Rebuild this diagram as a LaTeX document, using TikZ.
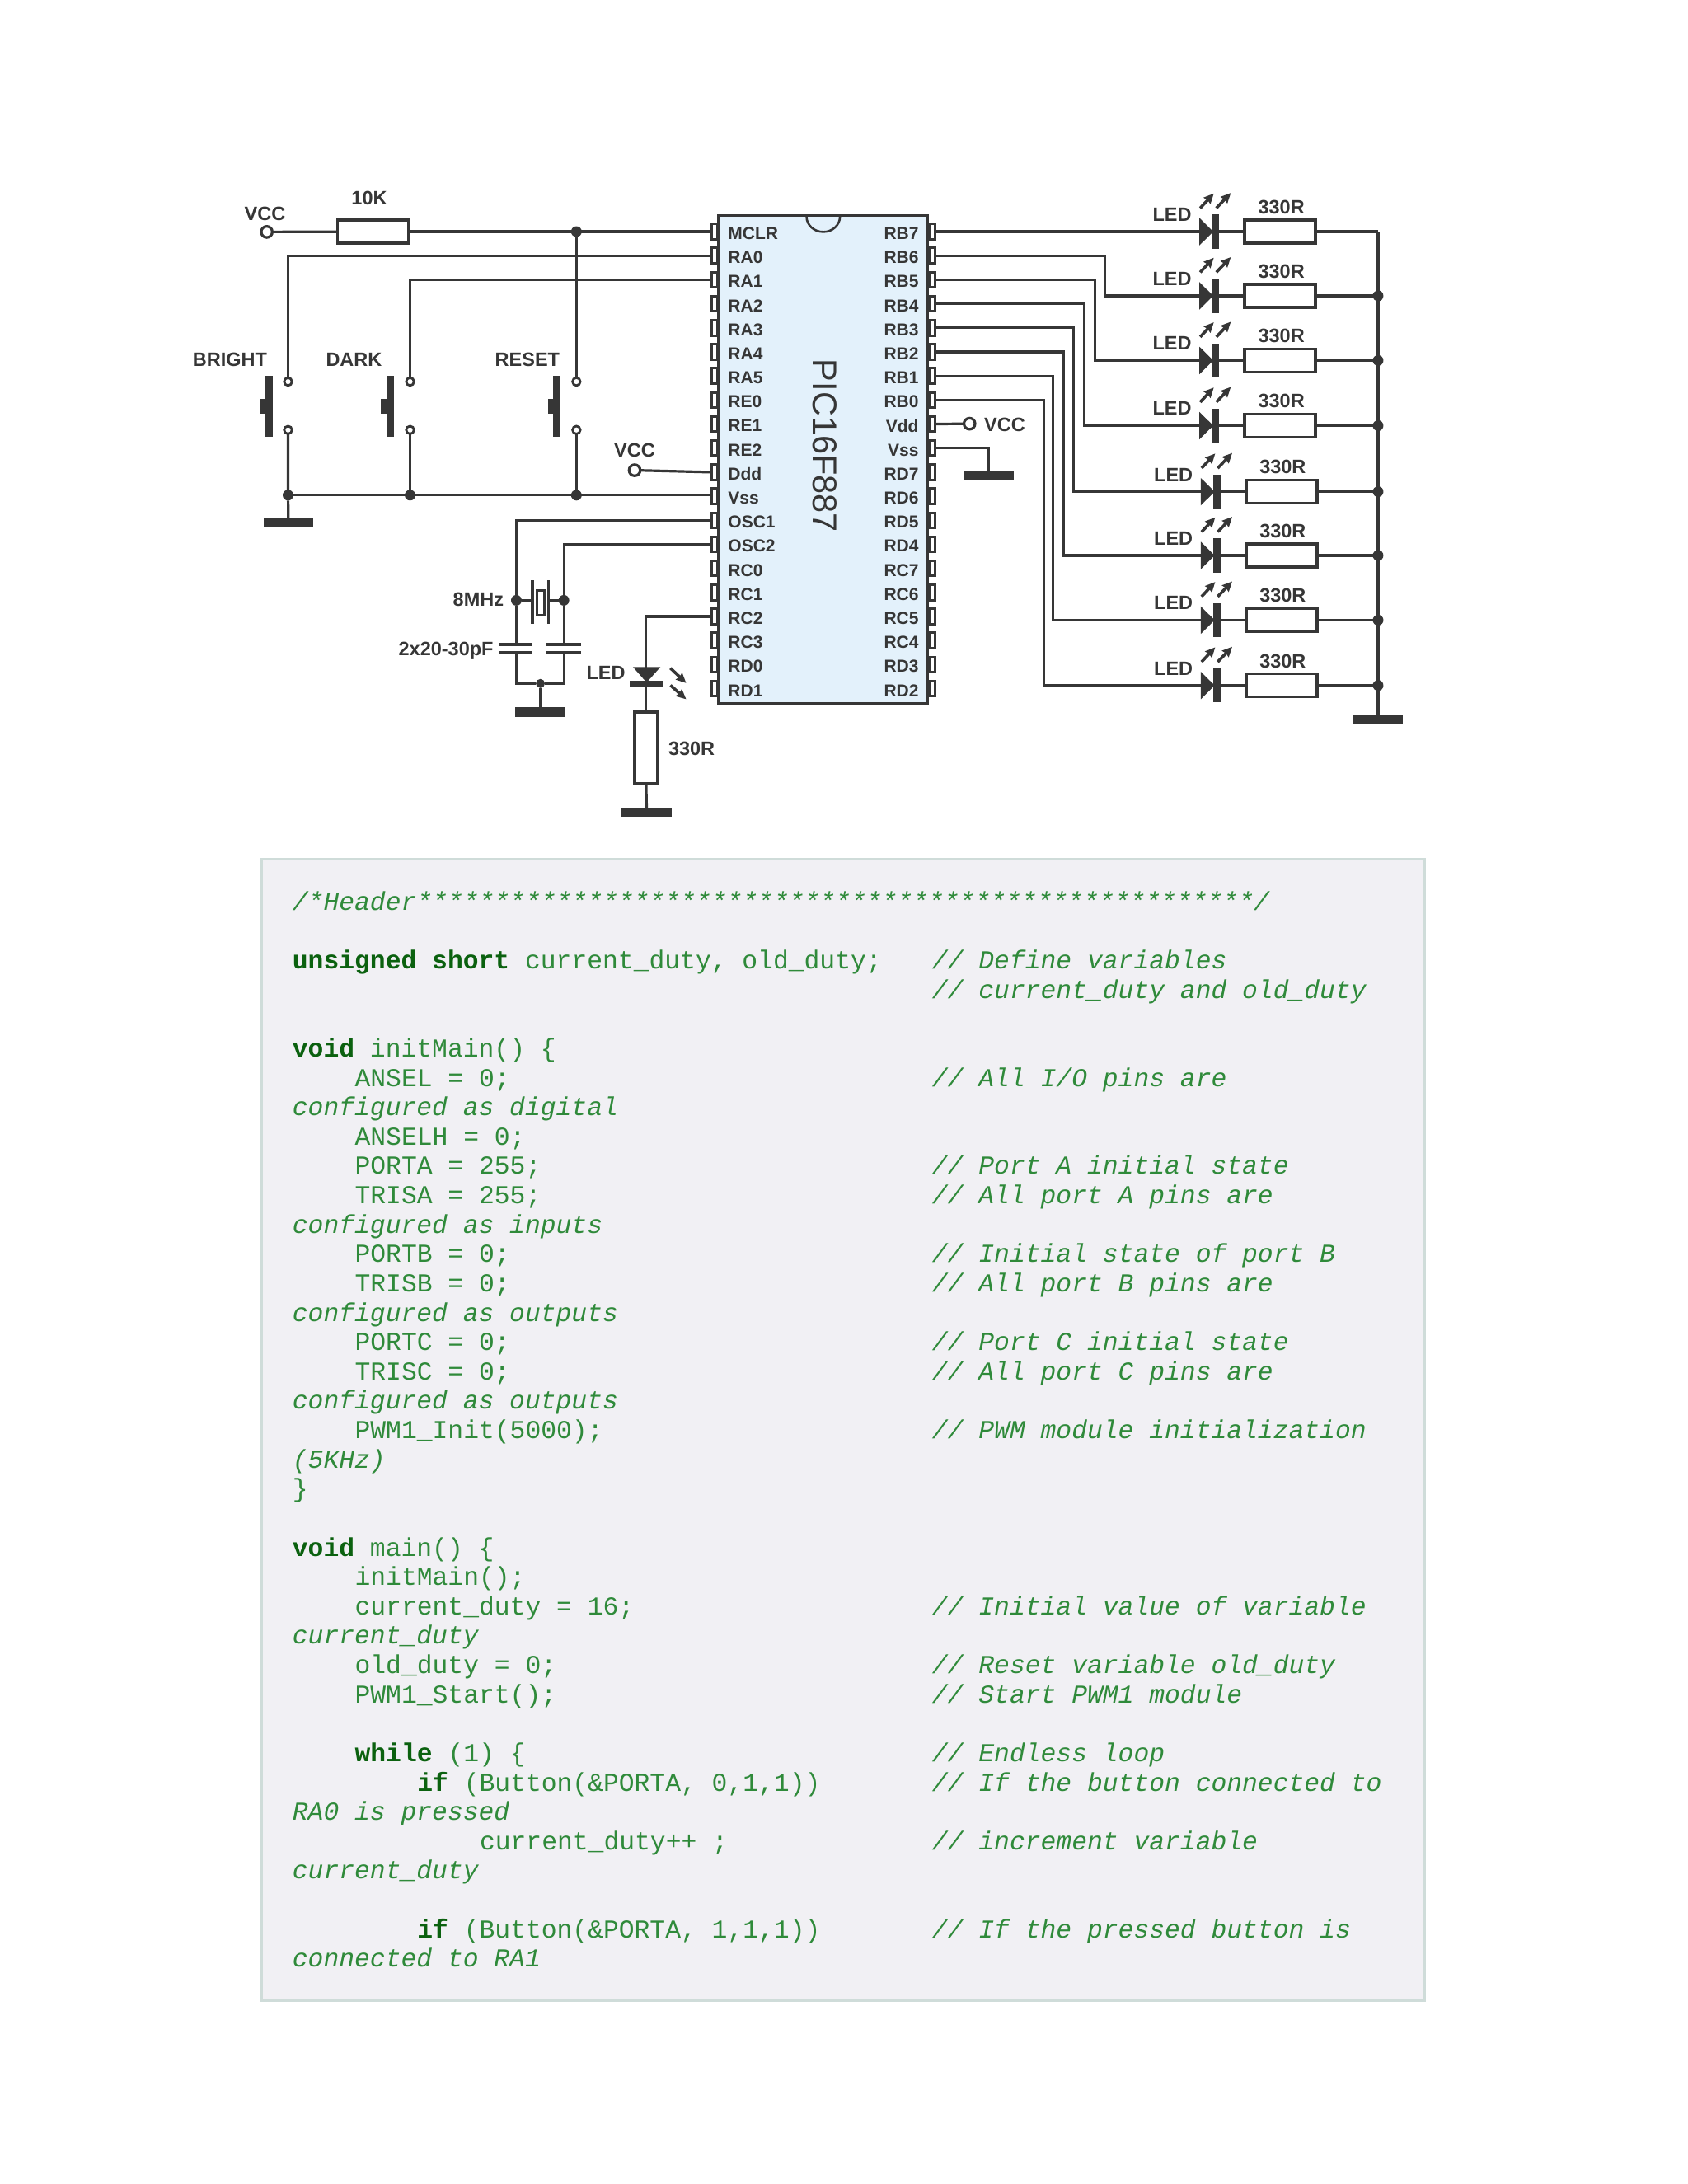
\documentclass[tikz,border=0pt]{standalone}
\usepackage{fontspec}
\setmainfont{Liberation Sans}
\newfontfamily\cf{Liberation Mono}
\usetikzlibrary{arrows.meta,calc}
\definecolor{ink}{HTML}{363636}
\definecolor{chip}{HTML}{E3F1FB}
\definecolor{panel}{HTML}{F1F0F4}
\definecolor{panelb}{HTML}{CFDCD9}
\definecolor{code}{HTML}{2F8A3A}
\definecolor{kwc}{HTML}{0B610F}
\newcommand{\kw}[1]{{\bfseries\upshape\color{kwc}#1}}
\newcommand{\cl}[3]{\node[cd,name=l#1c#2] at ({210+#2*11.2},{653.4+#1*21.08}) {#3};}
\newcommand{\cm}[2]{\node[cd,font=\cf\itshape\fontsize{31.35}{31.35}\selectfont,name=l#1m] at ({210+41*11.2},{653.4+#1*21.08}) {#2};}
\newcommand{\ci}[2]{\node[cd,font=\cf\itshape\fontsize{31.35}{31.35}\selectfont,name=l#1i] at (210,{653.4+#1*21.08}) {#2};}
\tikzset{
  w/.style={draw=ink,line width=3.2pt,line cap=butt,line join=miter},
  lbl/.style={text=ink,font=\bfseries\fontsize{23.5}{23.5}\selectfont,inner sep=0pt},
  plbl/.style={text=ink,font=\bfseries\fontsize{21}{21}\selectfont,inner sep=0pt},
  pin/.style={rectangle,draw=ink,line width=3pt,fill=white,minimum width=7pt,minimum height=18.5pt,inner sep=0pt,outer sep=0pt},
  res/.style={rectangle,draw=ink,line width=3.4pt,fill=white,minimum width=86pt,minimum height=27.8pt,inner sep=0pt,outer sep=0pt},
  vres/.style={rectangle,draw=ink,line width=3.4pt,fill=white,minimum width=27.5pt,minimum height=87pt,inner sep=0pt,outer sep=0pt},
  term/.style={circle,draw=ink,line width=3.2pt,fill=white,minimum size=13.5pt,inner sep=0pt,outer sep=0pt},
  sw/.style={circle,draw=ink,line width=2.8pt,fill=white,minimum size=9.5pt,inner sep=0pt,outer sep=0pt},
  dot/.style={circle,fill=ink,minimum size=13pt,inner sep=0pt,outer sep=0pt},
  gnd/.style={rectangle,fill=ink,minimum width=60.5pt,minimum height=11.5pt,inner sep=0pt,outer sep=0pt},
  sol/.style={fill=ink,draw=none},
  ray/.style={draw=ink,line width=3.6pt,-{Stealth[length=12pt,width=11pt,inset=1pt]}},
  cd/.style={anchor=base west,inner sep=0pt,outer sep=0pt,text=code,font=\cf\fontsize{31.35}{31.35}\selectfont},
}
\newcommand{\btn}[2]{% x of bar left, x of nub left
  \fill[sol] (#1,270) rectangle ({#1+5.2},313.6);
  \fill[sol] (#2,286.5) rectangle (#1,297);
}
\begin{document}
\begin{tikzpicture}[x=1.6901pt,y=-1.6901pt]
\useasboundingbox (0,0) rectangle (1211.8,1568);

% ---------- chip ----------
\node[rectangle,draw=ink,line width=3.6pt,fill=chip,minimum width=253pt,minimum height=592.4pt,inner sep=0pt,outer sep=0pt] (ic) at (590.9,330) {};
\draw[ink,line width=2.6pt] (579,155.5) arc[start angle=180,end angle=0,x radius=12,y radius=11];
\node[rotate=-90,text=ink,font=\fontsize{41.5}{41.5}\selectfont,inner sep=0pt] (icname) at (592,320) {PIC16F887};
\foreach \t [count=\i from 0] in {MCLR,RA0,RA1,RA2,RA3,RA4,RA5,RE0,RE1,RE2,Ddd,Vss,OSC1,OSC2,RC0,RC1,RC2,RC3,RD0,RD1}{
  \node[pin] (lp\i) at (512.8,{166.3+\i*17.27}) {};
  \node[plbl,anchor=west] (lt\i) at (522.6,{167.6+\i*17.27}) {\t};
}
\foreach \t [count=\i from 0] in {RB7,RB6,RB5,RB4,RB3,RB2,RB1,RB0,Vdd,Vss,RD7,RD6,RD5,RD4,RC7,RC6,RC5,RC4,RD3,RD2}{
  \node[pin] (rp\i) at (669.4,{166.3+\i*17.27}) {};
  \node[plbl,anchor=east] (rt\i) at (659.6,{167.6+\i*17.27}) {\t};
}

% ---------- left: reset / switches ----------
\node[term] (vcc1) at (191.5,166.5) {};
\node[lbl] (vcc1t) at (190.2,153.3) {VCC};
\node[res] (r10k) at (267.6,166.3) {};
\node[lbl] (r10kt) at (265.1,142) {10K};
\node[dot] (jm) at (413.8,166.3) {};
\node[sw] (s1a) at (206.8,274) {};
\node[sw] (s1b) at (206.8,308.7) {};
\node[sw] (s2a) at (294.4,274) {};
\node[sw] (s2b) at (294.4,308.7) {};
\node[sw] (s3a) at (413.8,274) {};
\node[sw] (s3b) at (413.8,308.7) {};
\node[dot] (j1) at (206.8,355.5) {};
\node[dot] (j2) at (294.4,355.5) {};
\node[dot] (j3) at (413.8,355.5) {};
\node[gnd] (g1) at (207,375) {};
\node[lbl] (s1t) at (165,258) {BRIGHT};
\node[lbl] (s2t) at (254.1,258) {DARK};
\node[lbl] (s3t) at (378.6,258) {RESET};
\btn{190.6}{186.6}
\btn{277.7}{273.4}
\btn{397.2}{393.7}
\draw[w] (vcc1) -- (r10k);
\draw[w] (r10k) -- (lp0.west);
\draw[w] (lp1.west) -| (s1a.north);
\draw[w] (lp2.west) -| (s2a.north);
\draw[w] (jm) -- (s3a.north);
\draw[w] (s1b.south) -- (j1) -- (g1.north);
\draw[w] (s2b.south) -- (j2);
\draw[w] (s3b.south) -- (j3);
\draw[w] (j1) -- (j1 -| lp11.west);
\node[term] (vcc2) at (455.6,337.6) {};
\node[lbl] (vcc2t) at (455.6,323.5) {VCC};
\draw[w] (vcc2) -- (lp10.west);

% ---------- crystal and caps ----------
\node[dot] (x1) at (370.7,431) {};
\node[dot] (x2) at (404.8,431) {};
\node[lbl,anchor=east] (xt) at (361.7,430.4) {8MHz};
\node[lbl,anchor=east] (ct) at (354.3,467.5) {2x20-30pF};
\draw[w] (lp12.west) -| (x1);
\draw[w] (lp13.west) -| (x2);
\draw[w] (x1) -- (382.2,431);
\draw[w] (x2) -- (393.8,431);
\draw[w] (382.2,416.8) -- (382.2,447.7);
\draw[w] (393.8,416.8) -- (393.8,447.7);
\draw[draw=ink,line width=3pt,fill=white] (385.3,424) rectangle (390.7,441.4);
\coordinate (c1t) at (370.7,462.9); \coordinate (c1b) at (370.7,468.4);
\coordinate (c2t) at (404.8,462.9); \coordinate (c2b) at (404.8,468.4);
\draw[w,line width=4pt] (358.6,462.9) -- (382.2,462.9);
\draw[w,line width=4pt] (358.6,468.4) -- (382.2,468.4);
\draw[w,line width=4pt] (392.5,462.9) -- (417.2,462.9);
\draw[w,line width=4pt] (392.5,468.4) -- (417.2,468.4);
\draw[w] (x1) -- (c1t);
\draw[w] (x2) -- (c2t);
\node[dot,minimum size=11pt] (jc) at (387.9,490.7) {};
\node[gnd] (g2) at (387.9,511.2) {};
\draw[w] (c1b) |- (jc);
\draw[w] (c2b) |- (jc);
\draw[w] (jc) -- (g2.north);

% ---------- RC2 LED ----------
\coordinate (la) at (463.8,479);
\draw[w] (lp16.west) -| (la);
\fill[sol] (454.4,478.9) -- (474.1,478.9) -- (464.2,490) -- cycle;
\fill[sol] (452.3,489) rectangle (475.9,493);
\node[vres] (r9) at (463.8,537) {};
\node[gnd] (g3) at (464.2,583.2) {};
\draw[w] (463.8,493) -- (r9.north);
\draw[w] (r9.south) -- (g3.north);
\node[lbl] (ledL) at (434.9,483.2) {LED};
\node[lbl] (r9t) at (496.5,537.5) {330R};
\draw[ray] (481.3,479.7) -- (492.6,490.4);
\draw[ray] (481.3,492) -- (492.6,502);

% ---------- right: VCC, GND ----------
\node[term] (vcc3) at (696,304.2) {};
\node[lbl] (vcc3t) at (721.3,304.7) {VCC};
\draw[w] (rp8.east) -- (vcc3);
\node[gnd] (g4) at (709.8,341.7) {};
\draw[w] (rp9.east) -| (g4.north);

% ---------- LED rows ----------
\node[gnd] (g5) at (989,516.7) {};
\foreach \i/\y/\d in {0/166.3/0,1/212.4/0,2/258.8/0,3/305.6/0,4/353/1,5/398.8/1,6/445.2/1,7/492.1/1}{
  \coordinate (ld\i) at ({861+\d},\y);
  \fill[sol] ({861+\d},{\y-9.9}) -- ({871+\d},\y) -- ({861+\d},{\y+9.9}) -- cycle;
  \fill[sol] ({870.1+\d},{\y-12.3}) rectangle ({875+\d},{\y+12.3});
  \node[res] (rr\i) at ({919+\d},\y) {};
  \coordinate (rl\i) at (989.3,\y);
  \node[lbl] (ll\i) at ({841.4+\d},{\y-12.2}) {LED};
  \node[lbl] (rv\i) at ({919.9+\d},{\y-17.6}) {330R};
  \draw[w] ({875+\d},\y) -- (rr\i);
  \draw[w] (rr\i) -- (rl\i);
  \draw[ray] ({861.6+\d},{\y-16.9}) -- ({871.4+\d},{\y-27.4});
  \draw[ray] ({873.2+\d},{\y-16.9}) -- ({883.6+\d},{\y-27.8});
}
\foreach \i in {1,...,7}{\node[dot] (jr\i) at (rl\i) {};}
\draw[w] (rl0) -- (rl0 |- g5.north);
\draw[w] (rp0.east) -- (ld0);
\foreach \p/\x in {1/793,2/786,3/778.4,4/770.9,5/763.4,6/756,7/749.4}{
  \coordinate (tk\p) at (\x,0);
  \draw[w] (rp\p.east) -- (rp\p.east -| tk\p) -- (tk\p |- ld\p) -- (ld\p);
}

% ---------- code panel ----------
\draw[draw=panelb,fill=panel,line width=3pt] (187.6,617) rectangle (1023,1436.5);
\ci{0}{/*Header******************************************************/}
\cl{2}{0}{\kw{unsigned short} current\_duty, old\_duty;}
\cm{2}{// Define variables}
\cm{3}{// current\_duty and old\_duty}
\cl{5}{0}{\kw{void} initMain() \{}
\cl{6}{4}{ANSEL = 0;}
\cm{6}{// All I/O pins are}
\ci{7}{configured as digital}
\cl{8}{4}{ANSELH = 0;}
\cl{9}{4}{PORTA = 255;}
\cm{9}{// Port A initial state}
\cl{10}{4}{TRISA = 255;}
\cm{10}{// All port A pins are}
\ci{11}{configured as inputs}
\cl{12}{4}{PORTB = 0;}
\cm{12}{// Initial state of port B}
\cl{13}{4}{TRISB = 0;}
\cm{13}{// All port B pins are}
\ci{14}{configured as outputs}
\cl{15}{4}{PORTC = 0;}
\cm{15}{// Port C initial state}
\cl{16}{4}{TRISC = 0;}
\cm{16}{// All port C pins are}
\ci{17}{configured as outputs}
\cl{18}{4}{PWM1\_Init(5000);}
\cm{18}{// PWM module initialization}
\ci{19}{(5KHz)}
\cl{20}{0}{\}}
\cl{22}{0}{\kw{void} main() \{}
\cl{23}{4}{initMain();}
\cl{24}{4}{current\_duty = 16;}
\cm{24}{// Initial value of variable}
\ci{25}{current\_duty}
\cl{26}{4}{old\_duty = 0;}
\cm{26}{// Reset variable old\_duty}
\cl{27}{4}{PWM1\_Start();}
\cm{27}{// Start PWM1 module}
\cl{29}{4}{\kw{while} (1) \{}
\cm{29}{// Endless loop}
\cl{30}{8}{\kw{if} (Button(\&PORTA, 0,1,1))}
\cm{30}{// If the button connected to}
\ci{31}{RA0 is pressed}
\cl{32}{12}{current\_duty++ ;}
\cm{32}{// increment variable}
\ci{33}{current\_duty}
\cl{35}{8}{\kw{if} (Button(\&PORTA, 1,1,1))}
\cm{35}{// If the pressed button is}
\ci{36}{connected to RA1}
\end{tikzpicture}
\end{document}
